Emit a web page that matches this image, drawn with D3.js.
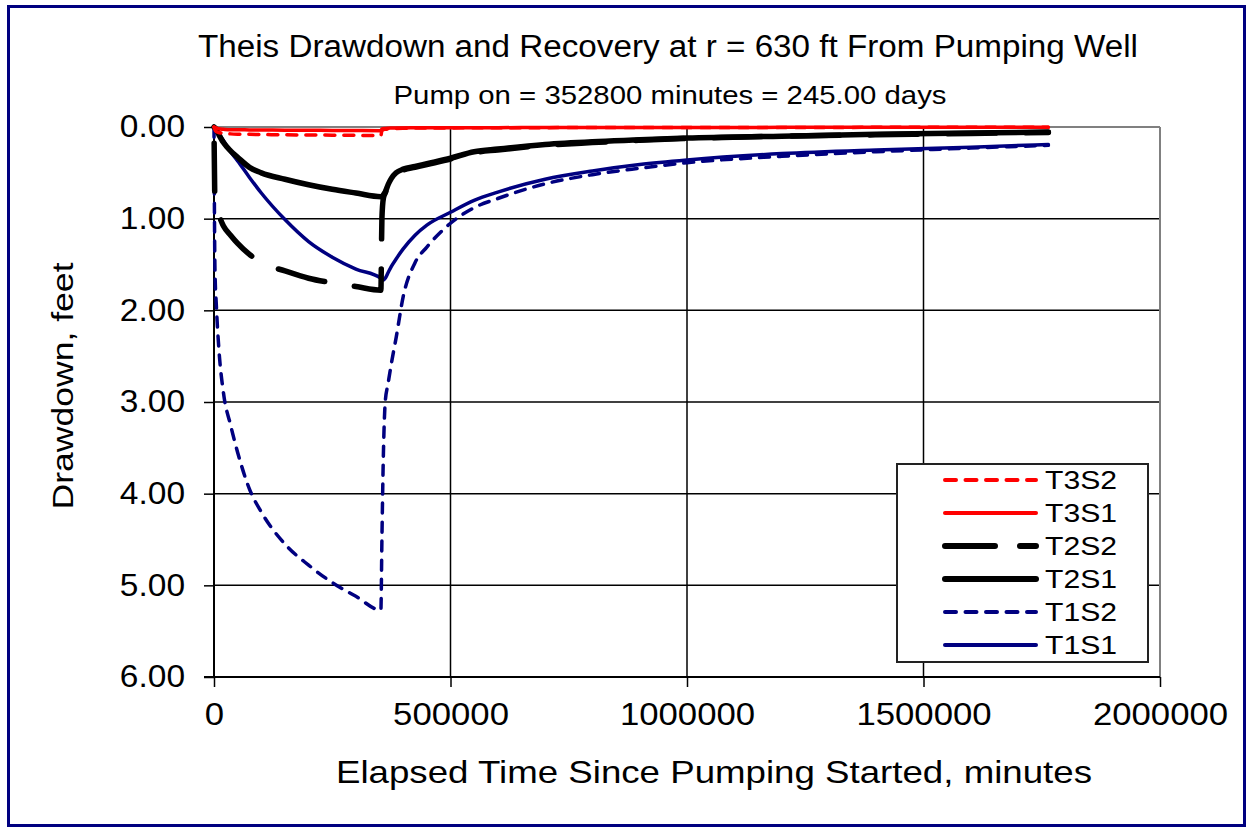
<!DOCTYPE html>
<html>
<head>
<meta charset="utf-8">
<script src="https://cdn.jsdelivr.net/npm/d3@7"></script>
<style>
  html, body { margin: 0; padding: 0; background: #fff; }
  svg { display: block; }
  text { font-family: "Liberation Sans", Arial, sans-serif; fill: #000; }
</style>
</head>
<body>
<svg id="chart" width="1253" height="829"></svg>
<script>
// ---------------- DATA ----------------
const titleText = "Theis Drawdown and Recovery at r = 630 ft From Pumping Well";
const subtitleText = "Pump on = 352800 minutes = 245.00 days";
const xAxisTitle = "Elapsed Time Since Pumping  Started, minutes";
const yAxisTitle = "Drawdown, feet";

const xTicks = [0, 500000, 1000000, 1500000, 2000000];
const yTicks = [0, 1, 2, 3, 4, 5, 6];

// elapsed time, minutes
const times = [0, 2000, 5000, 10000, 20000, 35000, 50000, 75000, 100000, 150000, 200000, 250000, 300000, 352800,
  355000, 358000, 362000, 368000, 375000, 385000, 400000, 425000, 450000, 500000, 550000, 600000,
  700000, 800000, 900000, 1000000, 1200000, 1400000, 1600000, 1764000];

// drawdown, feet
const T1S1 = [0, 0.005, 0.03, 0.07, 0.15, 0.27, 0.37, 0.55, 0.72, 1.01, 1.25, 1.42, 1.55, 1.65,
  1.66, 1.67, 1.65, 1.59, 1.52, 1.44, 1.33, 1.18, 1.07, 0.93, 0.80, 0.71,
  0.57, 0.48, 0.41, 0.36, 0.29, 0.25, 0.22, 0.19];
const T1S2 = [0, 1.55, 1.95, 2.40, 2.90, 3.25, 3.55, 3.95, 4.20, 4.55, 4.78, 4.97, 5.12, 5.27,
  4.50, 3.60, 3.00, 2.80, 2.58, 2.30, 1.85, 1.48, 1.31, 1.05, 0.88, 0.78,
  0.62, 0.52, 0.45, 0.39, 0.32, 0.27, 0.23, 0.20];
const T2S1 = [0, 0.01, 0.03, 0.08, 0.17, 0.26, 0.33, 0.44, 0.50, 0.57, 0.63, 0.68, 0.72, 0.76,
  0.76, 0.74, 0.71, 0.63, 0.56, 0.50, 0.46, 0.43, 0.40, 0.34, 0.27, 0.24,
  0.19, 0.16, 0.14, 0.12, 0.10, 0.08, 0.065, 0.055];
const T2S2 = [0, 0.80, 0.90, 0.96, 1.08, 1.18, 1.27, 1.39, 1.48, 1.57, 1.65, 1.70, 1.74, 1.78,
  1.00, 0.78, 0.72, 0.64, 0.57, 0.51, 0.47, 0.44, 0.41, 0.35, 0.28, 0.25,
  0.20, 0.17, 0.145, 0.125, 0.10, 0.085, 0.07, 0.06];
const T3S1 = [0, 0.005, 0.01, 0.02, 0.025, 0.03, 0.03, 0.032, 0.033, 0.035, 0.036, 0.037, 0.038, 0.04,
  0.02, 0.018, 0.015, 0.013, 0.012, 0.011, 0.01, 0.009, 0.009, 0.008, 0.007, 0.007,
  0.006, 0.005, 0.005, 0.005, 0.004, 0.004, 0.003, 0.003];
const T3S2 = [0, 0.03, 0.05, 0.06, 0.07, 0.075, 0.078, 0.08, 0.082, 0.085, 0.087, 0.089, 0.091, 0.093,
  0.04, 0.03, 0.025, 0.02, 0.018, 0.016, 0.014, 0.012, 0.011, 0.01, 0.009, 0.008,
  0.007, 0.006, 0.006, 0.005, 0.005, 0.004, 0.004, 0.003];

const seriesNames = ["T1S1", "T1S2", "T2S1", "T2S2", "T3S1", "T3S2"];
const seriesValues = [T1S1, T1S2, T2S1, T2S2, T3S1, T3S2];

// ---------------- STYLE ----------------
const styles = {
  T1S1: { color: "#000080", width: 3.5, dash: null, offset: 0 },
  T1S2: { color: "#000080", width: 3.5, dash: "10,9", offset: 0 },
  T2S1: { color: "#000000", width: 5.5, dash: null, offset: 0 },
  T2S2: { color: "#000000", width: 5.5, dash: "48,30", offset: 62 },
  T3S1: { color: "#ff0000", width: 3.5, dash: null, offset: 0 },
  T3S2: { color: "#ff0000", width: 3.5, dash: "10,9", offset: 0 }
};
const legendOrder = ["T3S2", "T3S1", "T2S2", "T2S1", "T1S2", "T1S1"];

const svg = d3.select("#chart");

// outer frame
svg.append("rect").attr("x", 8.5).attr("y", 6.5).attr("width", 1236).attr("height", 819)
  .attr("fill", "#fff").attr("stroke", "#000080").attr("stroke-width", 3);

const plot = { left: 214, right: 1160, top: 127, bottom: 677 };
const x = d3.scaleLinear().domain([0, 2000000]).range([plot.left, plot.right]);
const y = d3.scaleLinear().domain([0, 6]).range([plot.top, plot.bottom]);

function stretchText(sel, factor) {
  sel.each(function () {
    const w = this.getComputedTextLength();
    d3.select(this).attr("textLength", w * factor).attr("lengthAdjust", "spacingAndGlyphs");
  });
}
function fitText(sel, width) {
  sel.attr("textLength", width).attr("lengthAdjust", "spacingAndGlyphs");
}

// gridlines
const g = svg.append("g");
g.selectAll("line.hg").data(yTicks.slice(1, -1)).join("line")
  .attr("x1", plot.left).attr("x2", plot.right)
  .attr("y1", d => y(d)).attr("y2", d => y(d))
  .attr("stroke", "#000").attr("stroke-width", 1.5);
g.selectAll("line.vg").data(xTicks.slice(1, -1)).join("line")
  .attr("x1", d => x(d)).attr("x2", d => x(d))
  .attr("y1", plot.top).attr("y2", plot.bottom)
  .attr("stroke", "#000").attr("stroke-width", 1.5);

// plot border top/right
g.append("line").attr("x1", plot.left).attr("x2", plot.right).attr("y1", plot.top).attr("y2", plot.top)
  .attr("stroke", "#808080").attr("stroke-width", 2);
g.append("line").attr("x1", plot.right).attr("x2", plot.right).attr("y1", plot.top).attr("y2", plot.bottom)
  .attr("stroke", "#808080").attr("stroke-width", 2);

// axes
const xAxis = d3.axisBottom(x).tickValues(xTicks).tickSize(10).tickPadding(16).tickFormat(d3.format("d"));
const yAxis = d3.axisLeft(y).tickValues(yTicks).tickSize(10).tickPadding(19).tickFormat(d3.format(".2f"));

const gx = svg.append("g").attr("transform", `translate(0,${plot.bottom})`).call(xAxis);
const gy = svg.append("g").attr("transform", `translate(${plot.left},0)`).call(yAxis);
[gx, gy].forEach(a => {
  a.select(".domain").attr("stroke", "#000").attr("stroke-width", 2);
  a.selectAll(".tick line").attr("stroke", "#000").attr("stroke-width", 1.5);
  a.selectAll(".tick text").attr("font-size", 31).attr("fill", "#000")
    .attr("font-family", "Liberation Sans, Arial, sans-serif");
});
gx.selectAll(".tick text").call(stretchText, 1.12);
gy.selectAll(".tick text").call(stretchText, 1.08);
gx.select(".domain").attr("d", `M${plot.left - 10},0H${plot.right}`);
gy.select(".domain").attr("d", `M0,${plot.top}V${plot.bottom}`);

// series
svg.append("defs").append("clipPath").attr("id", "clip")
  .append("rect").attr("x", plot.left - 4).attr("y", plot.top - 4)
  .attr("width", plot.right - plot.left + 8).attr("height", plot.bottom - plot.top + 8);

const line = d3.line().x(d => x(d.t)).y(d => y(d.v)).curve(d3.curveMonotoneX);
const gs = svg.append("g").attr("clip-path", "url(#clip)");
seriesNames.forEach((name, i) => {
  const data = times.map((t, j) => ({ t, v: seriesValues[i][j] }));
  const st = styles[name];
  gs.append("path").datum(data).attr("d", line)
    .attr("fill", "none").attr("stroke", st.color).attr("stroke-width", st.width)
    .attr("stroke-linecap", "round").attr("stroke-linejoin", "round")
    .attr("stroke-dasharray", st.dash).attr("stroke-dashoffset", st.offset);
});

// legend
const leg = svg.append("g");
leg.append("rect").attr("x", 897).attr("y", 464).attr("width", 251).attr("height", 198)
  .attr("fill", "#fff").attr("stroke", "#222").attr("stroke-width", 2);
const rowY = d3.scalePoint().domain(legendOrder).range([480, 645]);
legendOrder.forEach(name => {
  const st = styles[name];
  const yy = rowY(name);
  leg.append("line").attr("x1", 945).attr("x2", 1036)
    .attr("y1", yy).attr("y2", yy)
    .attr("stroke", st.color).attr("stroke-width", st.width + 0.5)
    .attr("stroke-linecap", "round")
    .attr("stroke-dasharray", name === "T2S2" ? "50,25" : (st.dash ? "11,9.5" : null));
  leg.append("text").attr("x", 1045).attr("y", yy).attr("dy", "0.36em")
    .attr("font-size", 26).text(name).call(fitText, 72);
});

// titles
svg.append("text").attr("x", 668).attr("y", 57).attr("text-anchor", "middle")
  .attr("font-size", 31).text(titleText).call(fitText, 940);
svg.append("text").attr("x", 670).attr("y", 104).attr("text-anchor", "middle")
  .attr("font-size", 25).text(subtitleText).call(fitText, 553);
svg.append("text").attr("x", 714).attr("y", 783).attr("text-anchor", "middle")
  .attr("font-size", 32).text(xAxisTitle).call(fitText, 756);
svg.append("text").attr("transform", "translate(73,386) rotate(-90)").attr("text-anchor", "middle")
  .attr("font-size", 30).text(yAxisTitle).call(fitText, 247);
</script>
</body>
</html>
